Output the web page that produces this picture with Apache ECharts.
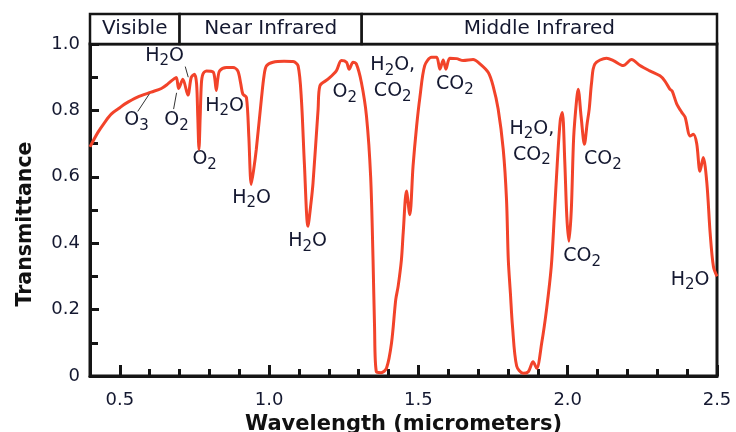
<!DOCTYPE html>
<html><head><meta charset="utf-8">
<script src="https://cdn.jsdelivr.net/npm/echarts@6/dist/echarts.min.js"></script>
<style>html,body{margin:0;padding:0;background:#fff}#c{width:736px;height:432px}</style>
</head><body><div id="c"></div>
<script>
// ---- data ----
const wavelength = [0.400,0.426,0.450,0.471,0.500,0.516,0.559,0.605,0.639,0.660,0.677,0.689,0.697,0.711,0.728,0.739,0.750,0.757,0.761,0.765,0.769,0.773,0.778,0.790,0.812,0.818,0.823,0.828,0.834,0.857,0.879,0.895,0.905,0.912,0.924,0.932,0.940,0.948,0.957,0.974,0.983,0.991,1.013,1.050,1.080,1.097,1.108,1.118,1.130,1.140,1.147,1.164,1.170,1.197,1.225,1.242,1.259,1.268,1.281,1.292,1.309,1.326,1.340,1.348,1.353,1.359,1.375,1.393,1.410,1.424,1.432,1.443,1.449,1.460,1.471,1.482,1.494,1.505,1.521,1.544,1.561,1.572,1.583,1.592,1.605,1.628,1.650,1.683,1.706,1.734,1.750,1.767,1.784,1.795,1.801,1.808,1.815,1.829,1.851,1.868,1.884,1.896,1.913,1.929,1.945,1.955,1.965,1.975,1.982,1.990,1.997,2.004,2.012,2.020,2.030,2.035,2.045,2.056,2.065,2.072,2.080,2.091,2.130,2.153,2.186,2.214,2.242,2.275,2.309,2.325,2.342,2.350,2.365,2.382,2.393,2.410,2.421,2.432,2.443,2.454,2.466,2.477,2.488,2.500];
const transmittance = [0.690,0.733,0.765,0.789,0.808,0.819,0.840,0.855,0.866,0.879,0.892,0.899,0.866,0.894,0.846,0.899,0.909,0.880,0.780,0.683,0.780,0.880,0.909,0.919,0.916,0.895,0.860,0.895,0.919,0.929,0.929,0.919,0.880,0.849,0.839,0.720,0.577,0.620,0.683,0.834,0.905,0.934,0.945,0.948,0.947,0.934,0.834,0.640,0.451,0.520,0.582,0.804,0.874,0.894,0.919,0.950,0.945,0.924,0.945,0.940,0.884,0.783,0.600,0.350,0.150,0.013,0.010,0.023,0.100,0.230,0.270,0.350,0.431,0.557,0.486,0.632,0.753,0.840,0.935,0.960,0.960,0.924,0.952,0.924,0.957,0.956,0.950,0.953,0.940,0.914,0.874,0.804,0.683,0.532,0.350,0.250,0.150,0.030,0.008,0.013,0.043,0.023,0.100,0.200,0.330,0.480,0.640,0.770,0.794,0.650,0.480,0.406,0.500,0.720,0.834,0.864,0.780,0.698,0.760,0.804,0.884,0.940,0.957,0.950,0.935,0.953,0.935,0.919,0.904,0.889,0.864,0.858,0.820,0.794,0.780,0.723,0.728,0.700,0.617,0.658,0.582,0.431,0.330,0.300];

const xMajorTicks = [0.5, 1.0, 1.5, 2.0, 2.5];
const yTickValues = [0, 0.2, 0.4, 0.6, 0.8, 1.0];

const bandNames = ['Visible', 'Near Infrared', 'Middle Infrared'];
const bandStart = [0.4, 0.7, 1.31];
const bandEnd = [0.7, 1.31, 2.5];

const annotationText = ['H₂O','O₃','O₂','O₂','H₂O','H₂O','H₂O','O₂','H₂O,\nCO₂','CO₂','H₂O,\nCO₂','CO₂','CO₂','H₂O'];
const annotationX = [0.650,0.556,0.690,0.784,0.851,0.941,1.129,1.253,1.414,1.622,1.880,2.118,2.048,2.410];
const annotationY = [0.965,0.770,0.770,0.653,0.814,0.537,0.406,0.855,0.897,0.878,0.705,0.653,0.361,0.290];

const leaderStartX = [0.719, 0.560, 0.680];
const leaderStartY = [0.932, 0.797, 0.804];
const leaderEndX = [0.729, 0.599, 0.690];
const leaderEndY = [0.900, 0.850, 0.853];

// ---- styling ----
const TXT = '#141830';
const FONT = 'DejaVu Sans';
const AX = '#151515';

function toRich(s) {
  return s.split('\n').map(line => {
    let out = '';
    let buf = '';
    for (const ch of line) {
      if (ch === '₂' || ch === '₃') {
        if (buf) { out += '{n|' + buf + '}'; buf = ''; }
        out += '{s|' + (ch === '₂' ? '2' : '3') + '}';
      } else buf += ch;
    }
    if (buf) out += '{n|' + buf + '}';
    return out;
  }).join('\n');
}

const chart = echarts.init(document.getElementById('c'), null, {renderer: 'canvas'});
const curve = wavelength.map((w, i) => [w, transmittance[i]]);

chart.setOption({
  animation: false,
  backgroundColor: '#fff',
  grid: [
    {left: 90, right: 19, top: 44, bottom: 56, show: true, borderColor: AX, borderWidth: 3,
     backgroundColor: 'transparent', containLabel: false, outerBoundsMode: 'none'},
    {left: 90, right: 19, top: 14, height: 30, containLabel: false, outerBoundsMode: 'none'}
  ],
  xAxis: [
    {
      type: 'value', gridIndex: 0, min: 0.4, max: 2.5, interval: 0.1,
      splitLine: {show: false},
      axisLine: {show: true, lineStyle: {color: AX, width: 3}},
      axisTick: {show: true, inside: true, length: 7, lineStyle: {color: AX, width: 3}},
      axisLabel: {
        margin: 15, color: TXT, fontSize: 18, fontFamily: FONT,
        formatter: v => xMajorTicks.some(t => Math.abs(t - v) < 1e-6) ? v.toFixed(1) : ''
      },
      name: 'Wavelength (micrometers)', nameLocation: 'middle', nameGap: 35,
      nameTextStyle: {fontSize: 21, fontWeight: 'bold', fontFamily: FONT, color: '#111'}
    },
    {
      type: 'value', gridIndex: 0, min: 0.4, max: 2.5, position: 'bottom',
      splitLine: {show: false},
      axisLine: {show: false},
      axisTick: {show: true, inside: true, length: 11, customValues: xMajorTicks, lineStyle: {color: AX, width: 3}},
      axisLabel: {show: false}
    },
    {type: 'value', gridIndex: 1, min: 0.4, max: 2.5, show: false}
  ],
  yAxis: [
    {
      type: 'value', gridIndex: 0, min: 0, max: 1, interval: 0.2,
      splitLine: {show: false},
      axisLine: {show: true, lineStyle: {color: AX, width: 3}},
      axisTick: {show: true, inside: true, length: 9, lineStyle: {color: AX, width: 3}},
      minorTick: {show: true, splitNumber: 2, length: 8, lineStyle: {color: AX, width: 3}},
      axisLabel: {margin: 10, color: TXT, fontSize: 18, fontFamily: FONT,
        formatter: v => v === 0 ? '0' : v.toFixed(1)},
      name: 'Transmittance', nameLocation: 'middle', nameGap: 54, nameRotate: 90,
      nameTextStyle: {fontSize: 20.5, fontWeight: 'bold', fontFamily: FONT, color: '#111', padding: [0, 28, 0, 0]}
    },
    {type: 'value', gridIndex: 1, min: 0, max: 1, show: false}
  ],
  series: [
    {
      type: 'custom', xAxisIndex: 2, yAxisIndex: 1,
      data: bandStart.map((s, i) => [s, bandEnd[i]]),
      renderItem: (params, api) => {
        const p0 = api.coord([api.value(0), 1]);
        const p1 = api.coord([api.value(1), 0]);
        return {
          type: 'rect',
          shape: {x: p0[0], y: p0[1], width: p1[0] - p0[0], height: p1[1] - p0[1]},
          style: {fill: '#fff', stroke: AX, lineWidth: 2.5},
          textContent: {style: {text: bandNames[params.dataIndex], fontSize: 20, fontFamily: FONT, fill: TXT}},
          textConfig: {position: 'inside'}
        };
      }
    },
    {
      type: 'scatter', xAxisIndex: 0, yAxisIndex: 0, symbolSize: 0, silent: true,
      itemStyle: {opacity: 1},
      data: annotationX.map((x, i) => ({value: [x, annotationY[i]], label: {formatter: toRich(annotationText[i])}})),
      label: {
        show: true, position: 'inside', color: TXT, opacity: 1,
        rich: {
          n: {fontSize: 19, fontFamily: FONT, color: TXT, lineHeight: 26},
          s: {fontSize: 15, fontFamily: FONT, color: TXT, lineHeight: 26, padding: [11, 0, 0, 0]}
        }
      },
      markLine: {
        silent: true, symbol: ['none', 'none'], label: {show: false},
        lineStyle: {color: '#333', width: 1, type: 'solid', opacity: 1},
        data: leaderStartX.map((x, i) => [{coord: [x, leaderStartY[i]]}, {coord: [leaderEndX[i], leaderEndY[i]]}])
      }
    },
    {
      type: 'line', xAxisIndex: 0, yAxisIndex: 0, data: curve,
      showSymbol: false, smooth: 0.3, clip: true,
      lineStyle: {color: '#f2432a', width: 3}
    }
  ]
});
</script>
</body></html>
